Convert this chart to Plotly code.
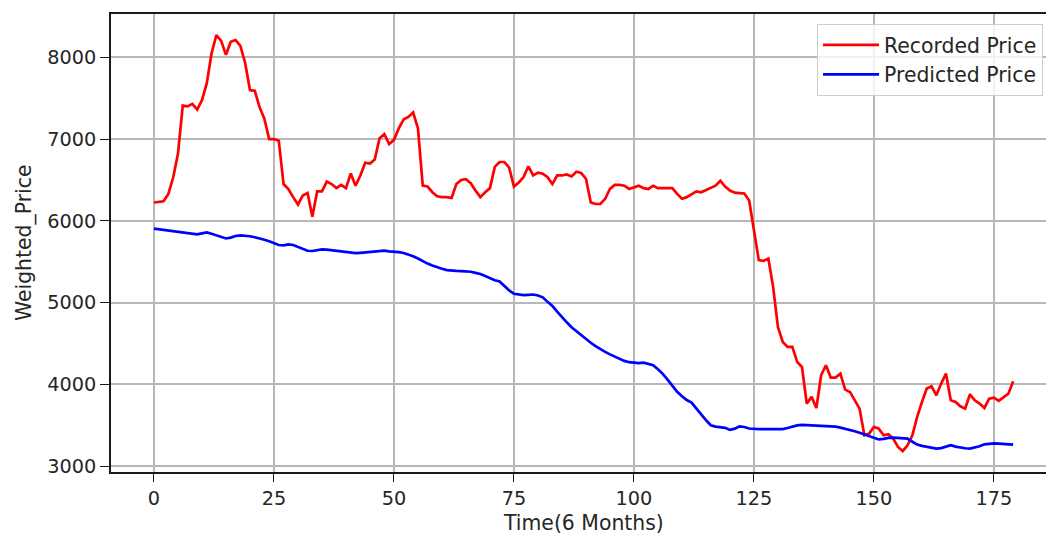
import plotly.graph_objects as go

# Time index (6-month steps)
time_idx = list(range(180))

recorded_price = [
    6225, 6230, 6240, 6330, 6530, 6820, 7410, 7400, 7430, 7360,
    7475, 7680, 8050, 8270, 8200, 8030, 8190, 8210, 8140, 7930,
    7600, 7590, 7390, 7250, 7000, 7000, 6980, 6450, 6390, 6290,
    6200, 6310, 6340, 6050, 6360, 6360, 6480, 6450, 6400, 6440,
    6400, 6580, 6430, 6555, 6710, 6700, 6750, 7010, 7060, 6940,
    6990, 7130, 7240, 7270, 7325, 7130, 6430, 6420, 6350, 6300,
    6290, 6290, 6280, 6450, 6500, 6510, 6460, 6370, 6290, 6350,
    6400, 6660, 6720, 6720, 6650, 6420, 6470, 6535, 6667, 6555,
    6590, 6576, 6535, 6450, 6555, 6555, 6567, 6543, 6600, 6585,
    6515, 6226, 6206, 6206, 6270, 6390, 6440, 6440, 6430, 6390,
    6410, 6430, 6400, 6390, 6430, 6400, 6400, 6400, 6400, 6330,
    6270, 6290, 6320, 6360, 6350, 6380, 6410, 6430, 6490, 6420,
    6370, 6345, 6340, 6335, 6250, 5900, 5520, 5510, 5540, 5190,
    4700, 4520, 4459, 4459, 4276, 4214, 3766, 3848, 3713, 4113,
    4235, 4084, 4084, 4133, 3937, 3909, 3807, 3705, 3379, 3399,
    3481, 3460, 3379, 3391, 3338, 3236, 3187, 3257, 3379, 3603,
    3786, 3950, 3978, 3868, 4011, 4133, 3807, 3786, 3733, 3705,
    3880, 3807, 3766, 3713, 3827, 3839, 3799, 3848, 3888, 4039,
]

predicted_price = [
    5905, 5898, 5890, 5883, 5876, 5868, 5862, 5856, 5850, 5835,
    5848, 5858, 5842, 5825, 5805, 5785, 5795, 5815, 5822, 5820,
    5812, 5800, 5788, 5770, 5752, 5730, 5705, 5700, 5712, 5705,
    5680, 5660, 5635, 5632, 5645, 5652, 5648, 5640, 5630, 5622,
    5612, 5605, 5605, 5610, 5615, 5622, 5630, 5638, 5635, 5628,
    5625, 5618, 5608, 5590, 5568, 5540, 5505, 5478, 5455, 5432,
    5415, 5398, 5390, 5388, 5386, 5383, 5378, 5365, 5350, 5325,
    5298, 5275, 5258, 5200, 5150, 5109, 5098, 5093, 5096, 5100,
    5088, 5065, 5010, 4960, 4890, 4820, 4760, 4700, 4650, 4600,
    4558, 4510, 4468, 4430, 4398, 4368, 4340, 4312, 4288, 4272,
    4263, 4262, 4267, 4255, 4235, 4185, 4130, 4060, 3985, 3910,
    3855, 3810, 3778, 3700, 3635, 3565, 3502, 3485, 3474, 3470,
    3445, 3460, 3488, 3480, 3462, 3455, 3453, 3453, 3452, 3453,
    3452, 3455, 3468, 3485, 3500, 3505, 3503, 3501, 3500, 3500,
    3495, 3492, 3485, 3473, 3460, 3443, 3428, 3410, 3390, 3370,
    3350, 3328, 3335, 3348, 3350, 3345, 3340, 3338, 3300, 3265,
    3250, 3236, 3228, 3216, 3222, 3240, 3257, 3240, 3228, 3220,
    3216, 3230, 3245, 3268, 3278, 3280, 3277, 3275, 3270, 3265,
]

x_ticks = [0, 25, 50, 75, 100, 125, 150, 175]
y_ticks = [3000, 4000, 5000, 6000, 7000, 8000]

FONT = "DejaVu Sans"
FS = 19.3
FS_LBL = 20.4
TXT = "#262626"

fig = go.Figure()
fig.add_trace(go.Scatter(x=time_idx, y=recorded_price, mode="lines",
                         name="Recorded Price",
                         line=dict(color="#ff0000", width=2.7)))
fig.add_trace(go.Scatter(x=time_idx, y=predicted_price, mode="lines",
                         name="Predicted Price",
                         line=dict(color="#0000ff", width=2.7)))

W, H = 1046, 534
L, R, T, B = 111, 0, 14, 62
px_per_x = 4.8
x0 = -8.95
x1 = x0 + (W - L - R) / px_per_x

fig.update_layout(
    width=W, height=H,
    margin=dict(l=L, r=R, t=T, b=B, pad=0),
    paper_bgcolor="white", plot_bgcolor="white",
    font=dict(family=FONT, size=FS, color=TXT),
    showlegend=True,
    legend=dict(x=0.9968, y=0.978, xanchor="right", yanchor="top",
                bgcolor="rgba(255,255,255,0.8)", bordercolor="#cccccc",
                borderwidth=1, font=dict(family=FONT, size=FS_LBL, color=TXT),
                tracegroupgap=0, itemwidth=56),
    xaxis=dict(range=[x0, x1], tickvals=x_ticks, showgrid=True,
               gridcolor="#b8b8b8", gridwidth=1.5, zeroline=False,
               showline=True, linecolor="#1a1a1a", linewidth=1.8, mirror=True,
               ticks="outside", ticklen=8, tickwidth=1.4, tickcolor="#1a1a1a",
               tickfont=dict(family=FONT, size=FS, color=TXT)),
    yaxis=dict(range=[2930, 8529], tickvals=y_ticks, showgrid=True,
               gridcolor="#b8b8b8", gridwidth=1.5, zeroline=False,
               showline=True, linecolor="#1a1a1a", linewidth=1.8, mirror=False,
               ticks="outside", ticklen=9, tickwidth=1.4, tickcolor="#1a1a1a",
               tickfont=dict(family=FONT, size=FS, color=TXT)),
    annotations=[
        dict(text="Time(6 Months)", xref="paper", yref="paper",
             x=(583 - L) / (W - L - R), y=-(523 - 472) / 458,
             xanchor="center", yanchor="middle", showarrow=False,
             font=dict(family=FONT, size=FS_LBL, color=TXT)),
        dict(text="Weighted_Price", xref="paper", yref="paper",
             x=(24 - L) / (W - L - R), y=0.5, textangle=-90,
             xanchor="center", yanchor="middle", showarrow=False,
             font=dict(family=FONT, size=FS_LBL, color=TXT)),
    ],
)

fig.write_html("out.html")
